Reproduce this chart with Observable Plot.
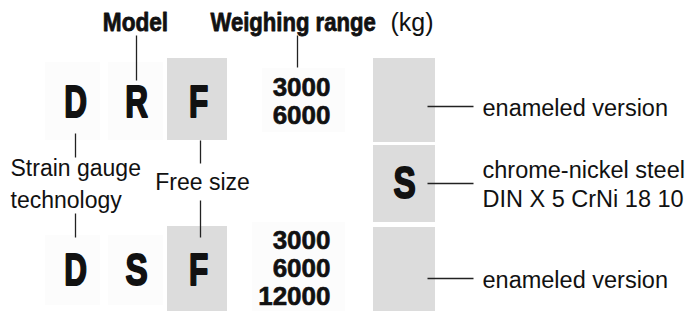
<!DOCTYPE html>
<html><head><meta charset="utf-8">
<script src="https://cdn.jsdelivr.net/npm/d3@7"></script>
<script src="https://cdn.jsdelivr.net/npm/@observablehq/plot@0.6"></script>
<style>html,body{margin:0;padding:0;background:#fff} svg{display:block}</style>
</head><body><div id="chart"></div>
<script>
// ---- content ----
const headers = ["Model", "Weighing range"];
const unitLabel = "(kg)";
const topCode = ["D", "R", "F"];
const bottomCode = ["D", "S", "F"];
const topRanges = ["3000", "6000"];
const bottomRanges = ["3000", "6000", "12000"];
const materialCodes = ["", "S", ""];
const materialLabels = ["enameled version", "chrome-nickel steel\nDIN X 5 CrNi 18 10", "enameled version"];
const techLabel = "Strain gauge\ntechnology";
const sizeLabel = "Free size";

// ---- layout (chart units) ----
const L = {
  letterX: [75, 136, 198],
  rowY: [102, 270],
  rangeRight: 330,
  rangeY0: [87, 240],
  rangeStep: 28,
  sizeBox: {x1: 167, x2: 227, rows: [[58, 140], [226, 311]]},
  matBox: {x1: 373, x2: 435, rows: [[58, 142], [145, 222], [227, 311]]},
  matY: [106, 183, 278],
  matLine: [427, 473],
  descX: 482,
  headerY: 22
};

const SANS = "'Liberation Sans', Arial, sans-serif";

const letters = [
  ...topCode.map((c, i) => ({c, x: L.letterX[i], y: L.rowY[0]})),
  ...bottomCode.map((c, i) => ({c, x: L.letterX[i], y: L.rowY[1]}))
];
const ranges = [
  ...topRanges.map((v, i) => ({v, y: L.rangeY0[0] + i * L.rangeStep})),
  ...bottomRanges.map((v, i) => ({v, y: L.rangeY0[1] + i * L.rangeStep}))
];
const boxes = [
  ...L.sizeBox.rows.map(([y1, y2]) => ({x1: L.sizeBox.x1, x2: L.sizeBox.x2, y1, y2})),
  ...L.matBox.rows.map(([y1, y2]) => ({x1: L.matBox.x1, x2: L.matBox.x2, y1, y2}))
];
const faint = [
  {x1: 45, x2: 100, y1: 62, y2: 140}, {x1: 108, x2: 163, y1: 62, y2: 140},
  {x1: 262, x2: 345, y1: 68, y2: 132},
  {x1: 45, x2: 100, y1: 235, y2: 305}, {x1: 108, x2: 163, y1: 235, y2: 305},
  {x1: 252, x2: 345, y1: 222, y2: 311}
];
const mats = materialLabels.map((t, i) => ({t, code: materialCodes[i], y: L.matY[i]}));
const connectors = [
  {x1: 136, y1: 35, x2: 136, y2: 80},
  {x1: 297, y1: 35, x2: 297, y2: 67},
  {x1: 75, y1: 133, x2: 75, y2: 157},
  {x1: 200, y1: 140, x2: 200, y2: 163},
  {x1: 75, y1: 213, x2: 75, y2: 237},
  {x1: 200, y1: 200, x2: 200, y2: 237},
  ...L.matY.map(y => ({x1: L.matLine[0], y1: y, x2: L.matLine[1], y2: y}))
];

const ink = "#111";
const chart = Plot.plot({
  width: 696, height: 311, margin: 0,
  x: {domain: [0, 696], range: [0, 696], axis: null},
  y: {domain: [0, 311], range: [0, 311], axis: null},
  style: {background: "#fff", fontFamily: SANS},
  marks: [
    Plot.rect(faint, {x1: "x1", x2: "x2", y1: "y1", y2: "y2", fill: "#fcfcfc"}),
    Plot.rect(boxes, {x1: "x1", x2: "x2", y1: "y1", y2: "y2", fill: "#dcdcdc"}),
    Plot.link(connectors, {x1: "x1", y1: "y1", x2: "x2", y2: "y2", stroke: "#222", strokeWidth: 1.3}),
    Plot.text([headers[0]], {x: 135, y: L.headerY, text: d => d, fontWeight: "bold", fontSize: 26, fill: ink, stroke: ink, strokeWidth: 0.8}),
    Plot.text([headers[1]], {x: 210, y: L.headerY, text: d => d, textAnchor: "start", fontWeight: "bold", fontSize: 26, fill: ink, stroke: ink, strokeWidth: 0.8}),
    Plot.text([unitLabel], {x: 390, y: L.headerY, text: d => d, textAnchor: "start", fontSize: 25, fill: ink}),
    Plot.text(letters, {x: "x", y: "y", text: "c", fontWeight: "bold", fontSize: 45, fill: ink, stroke: ink, strokeWidth: 2}),
    Plot.text(ranges, {x: L.rangeRight, y: "y", text: "v", textAnchor: "end", fontWeight: "bold", fontSize: 26, fill: ink, stroke: ink, strokeWidth: 0.6}),
    Plot.text(mats.filter(d => d.code), {x: 404, y: "y", text: "code", fontWeight: "bold", fontSize: 45, fill: ink, stroke: ink, strokeWidth: 2}),
    Plot.text(mats, {x: L.descX, y: "y", text: "t", textAnchor: "start", fontSize: 23.5, lineHeight: 1.24, fill: ink}),
    Plot.text([techLabel], {x: 10, y: 181, text: d => d, textAnchor: "start", fontSize: 23, lineHeight: 1.38, fill: ink}),
    Plot.text([sizeLabel], {x: 202, y: 182, text: d => d, fontSize: 23, fill: ink})
  ]
});

// horizontally condense the bold display type (condensed face of the original)
const squeeze = {D: 0.7, R: 0.7, F: 0.7, S: 0.74, Model: 0.87, "Weighing range": 0.85};
d3.select(chart).selectAll("text").each(function() {
  if (this.querySelector("tspan")) return;
  const sx = squeeze[this.textContent];
  if (!sx) return;
  const t = this.getAttribute("transform") || "";
  const m = /translate\(\s*([-\d.e]+)[ ,]+([-\d.e]+)\s*\)/.exec(t);
  if (m) {
    this.setAttribute("transform", `${t} scale(${sx},1)`);
  } else {
    const x = +this.getAttribute("x") || 0, y = +this.getAttribute("y") || 0;
    this.setAttribute("transform", `translate(${x},${y}) scale(${sx},1) translate(${-x},${-y})`);
  }
});
document.getElementById("chart").appendChild(chart);
</script>
</body></html>
